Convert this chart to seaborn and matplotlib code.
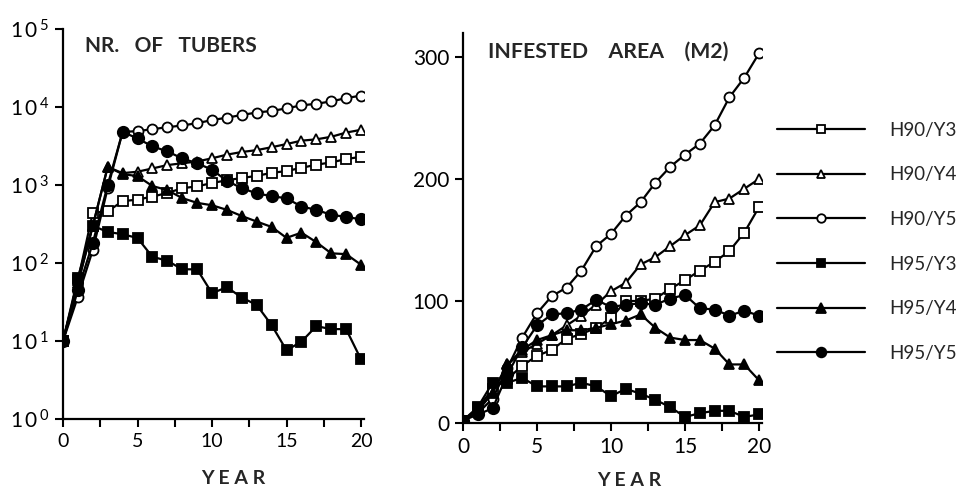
import matplotlib
matplotlib.use("Agg")
import matplotlib.pyplot as plt
import seaborn as sns
import numpy as np

sns.set_style("ticks")
plt.rcParams['font.family'] = ['Lato', 'DejaVu Sans']
plt.rcParams['mathtext.fontset'] = 'custom'
plt.rcParams['mathtext.rm'] = 'Lato'
plt.rcParams['mathtext.it'] = 'Lato'

years = list(range(21))
series_labels = ["H90/Y3", "H90/Y4", "H90/Y5", "H95/Y3", "H95/Y4", "H95/Y5"]

tubers_h90_y3 = [10, 60, 440, 460, 620, 650, 710, 790, 910, 960, 1060, 1150, 1230, 1310, 1430, 1510, 1660, 1820, 1950, 2150, 2300]
tubers_h90_y4 = [10, 55, 300, 1700, 1420, 1480, 1630, 1800, 1900, 2000, 2200, 2450, 2650, 2800, 3050, 3350, 3700, 3850, 4150, 4700, 5100]
tubers_h90_y5 = [10, 37, 147, 910, 4800, 4900, 5200, 5500, 5800, 6200, 6800, 7300, 7900, 8500, 8900, 9600, 10500, 11000, 11800, 13000, 14000]
tubers_h95_y3 = [10, 65, 300, 250, 234, 209, 120, 107, 83, 83, 41, 49, 36, 29, 16, 7.6, 9.8, 15.5, 14.2, 14.2, 5.8]
tubers_h95_y4 = [10, 55, 300, 1710, 1380, 1300, 970, 860, 680, 590, 550, 480, 400, 340, 290, 210, 245, 185, 133, 130, 95]
tubers_h95_y5 = [10, 45, 180, 1000, 4800, 3950, 3130, 2700, 2190, 1900, 1570, 1130, 910, 780, 720, 675, 530, 480, 415, 390, 363]

area_h90_y3 = [2, 12, 28, 36, 47, 55, 60, 69, 73, 78, 86, 100, 100, 102, 110, 117, 125, 132, 141, 156, 177]
area_h90_y4 = [2, 10, 25, 48, 58, 65, 72, 80, 88, 97, 108, 115, 130, 136, 145, 154, 162, 181, 184, 192, 200]
area_h90_y5 = [2, 8, 20, 45, 70, 90, 104, 111, 125, 145, 155, 170, 181, 197, 210, 220, 229, 244, 267, 283, 303]
area_h95_y3 = [2, 13, 33, 33, 37, 30, 30, 30, 33, 30, 22, 28, 24, 19, 13, 5, 8, 10, 10, 5, 7]
area_h95_y4 = [2, 10, 25, 48, 60, 68, 72, 76, 76, 78, 81, 84, 89, 78, 70, 68, 68, 61, 48, 48, 35]
area_h95_y5 = [2, 7, 12, 40, 62, 80, 89, 90, 93, 101, 95, 97, 98, 97, 102, 105, 94, 93, 88, 92, 88]

tubers = [tubers_h90_y3, tubers_h90_y4, tubers_h90_y5, tubers_h95_y3, tubers_h95_y4, tubers_h95_y5]
areas = [area_h90_y3, area_h90_y4, area_h90_y5, area_h95_y3, area_h95_y4, area_h95_y5]
markers = ["s", "^", "o", "s", "^", "o"]
faces = ["white", "white", "white", "black", "black", "black"]
msizes = [6.8, 7.2, 7.2, 7.2, 7.7, 8.2]

fig = plt.figure(figsize=(9.69, 4.88), dpi=100)
ax1 = fig.add_axes([63/969, 1-419/488, 301/969, 390/488])
ax2 = fig.add_axes([463/969, 1-423/488, 299/969, 390.4/488])

for vals, m, fc, ms, lab in zip(tubers, markers, faces, msizes, series_labels):
    sns.lineplot(x=years, y=vals, ax=ax1, color="black", lw=1.6, marker=m, markersize=ms,
                 markerfacecolor=fc, markeredgecolor="black", markeredgewidth=1.3, label=lab, legend=False)
for vals, m, fc, ms, lab in zip(areas, markers, faces, msizes, series_labels):
    sns.lineplot(x=years, y=vals, ax=ax2, color="black", lw=1.6, marker=m, markersize=ms,
                 markerfacecolor=fc, markeredgecolor="black", markeredgewidth=1.3, label=lab, legend=False)

# left axis
ax1.set_yscale("log")
ax1.set_ylim(1, 1e5)
ax1.set_xlim(0, 20.2)
ax1.set_yticks([1, 10, 100, 1000, 1e4, 1e5])
ax1.set_yticklabels([r"$1\,0^{\,0}$", r"$1\,0^{\,1}$", r"$1\,0^{\,2}$", r"$1\,0^{\,3}$", r"$1\,0^{\,4}$", r"$1\,0^{\,5}$"], fontsize=15)
ax1.yaxis.set_minor_locator(matplotlib.ticker.NullLocator())
ax1.set_xticks(np.arange(0, 20.1, 2.5))
ax1.set_xticklabels(["0", "", "5", "", "10", "", "15", "", "20"], fontsize=14)

ax2.set_ylim(0, 320)
ax2.set_xlim(0, 20.2)
ax2.set_yticks([0, 100, 200, 300])
ax2.set_yticklabels(["0", "100", "200", "300"], fontsize=15)
ax2.set_xticks(np.arange(0, 20.1, 2.5))
ax2.set_xticklabels(["0", "", "5", "", "10", "", "15", "", "20"], fontsize=15)

for ax in (ax1, ax2):
    sns.despine(ax=ax)
    ax.spines["left"].set_linewidth(1.6)
    ax.spines["bottom"].set_linewidth(1.6)
    ax.tick_params(axis="both", direction="out", length=6, width=1.5, colors="black", pad=4)
    ax.set_xlabel("Y E A R", fontsize=14, fontweight="bold")
    ax.set_ylabel("")
    for sp in ax.spines.values():
        sp.set_color("black")

ax1.xaxis.set_label_coords(0.565, -0.13)
ax2.xaxis.set_label_coords(0.555, -0.125)

fig.text(85/969, 1-52/488, "NR.   OF   TUBERS", fontsize=15, fontweight="bold", va="baseline", ha="left")
fig.text(488/969, 1-58/488, "INFESTED    AREA    (M2)", fontsize=15.3, fontweight="bold", va="baseline", ha="left")

handles, labels = ax2.get_legend_handles_labels()
leg = fig.legend(handles, labels, loc="upper left", bbox_to_anchor=(760/969, 1-105/488),
                 frameon=False, fontsize=13.5, handlelength=4.7, handletextpad=1.3,
                 labelspacing=1.47, markerscale=0.85)

fig.savefig("out.png", dpi=100)
